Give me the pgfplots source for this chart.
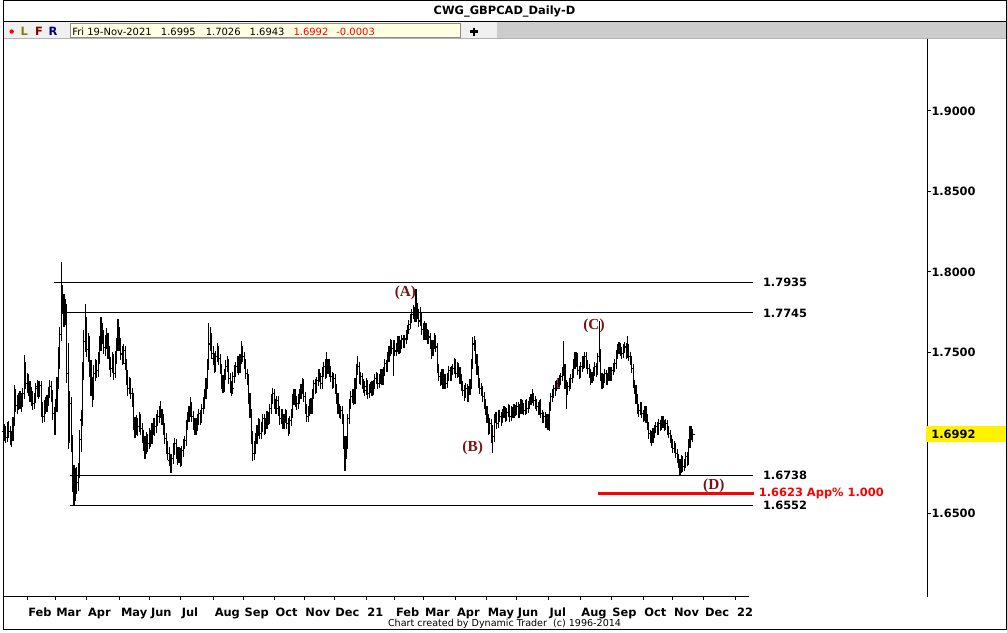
\documentclass[border=0pt]{standalone}
\usepackage{pgfplots}
\pgfplotsset{compat=1.18}
\usepackage{pgfplotstable}
\usepackage{fontspec}
\setmainfont{DejaVu Sans}
\newfontfamily\wavefont{Liberation Serif}
\definecolor{wavec}{RGB}{122,20,20}
\definecolor{infoy}{RGB}{255,255,225}
\definecolor{bandg}{RGB}{204,204,204}
\definecolor{lightg}{RGB}{240,240,240}
\definecolor{olivel}{RGB}{128,128,0}
\definecolor{darkr}{RGB}{128,0,0}
\definecolor{navyr}{RGB}{0,0,128}
\newcommand\bfs{\bfseries\fontsize{8.6}{10}\selectfont}
\newcommand\rgs{\fontsize{7.5}{9}\selectfont}
\pgfdeclareplotmark{otick}{\pgfpathmoveto{\pgfpointorigin}\pgfpathlineto{\pgfpoint{-\pgfplotmarksize}{0pt}}\pgfusepathqstroke}
\pgfdeclareplotmark{ctick}{\pgfpathmoveto{\pgfpointorigin}\pgfpathlineto{\pgfpoint{\pgfplotmarksize}{0pt}}\pgfusepathqstroke}
\pgfplotstableread{
d O H L C
-16 1.7010 1.7055 1.6950 1.6989
-15 1.6989 1.7040 1.6935 1.6970
-14 1.6970 1.7065 1.6942 1.7030
-13 1.7030 1.7072 1.6970 1.7008
-12 1.7008 1.7040 1.6925 1.6960
-11 1.6960 1.7010 1.6910 1.6975
-10 1.6975 1.7100 1.6948 1.7070
-9 1.7070 1.7300 1.7040 1.7220
-8 1.7220 1.7270 1.7130 1.7170
-7 1.7170 1.7235 1.7120 1.7190
-6 1.7190 1.7250 1.7140 1.7215
-5 1.7215 1.7260 1.7150 1.7185
-4 1.7185 1.7245 1.7130 1.7200
-3 1.7200 1.7280 1.7160 1.7245
-2 1.7245 1.7484 1.7210 1.7398
-1 1.7398 1.7440 1.7270 1.7305
0 1.7305 1.7370 1.7250 1.7330
1 1.7330 1.7365 1.7230 1.7274
2 1.7274 1.7320 1.7190 1.7235
3 1.7235 1.7285 1.7170 1.7212
4 1.7212 1.7260 1.7145 1.7181
5 1.7181 1.7250 1.7150 1.7220
6 1.7220 1.7310 1.7185 1.7274
7 1.7274 1.7330 1.7225 1.7286
8 1.7286 1.7320 1.7210 1.7250
9 1.7250 1.7325 1.7220 1.7295
10 1.7295 1.7320 1.7100 1.7140
11 1.7140 1.7195 1.7060 1.7100
12 1.7100 1.7205 1.7070 1.7165
13 1.7165 1.7220 1.7120 1.7181
14 1.7181 1.7235 1.7130 1.7200
15 1.7200 1.7285 1.7165 1.7250
16 1.7250 1.7330 1.7215 1.7286
17 1.7286 1.7320 1.7195 1.7230
18 1.7230 1.7265 1.7080 1.7119
19 1.7119 1.7160 1.6990 1.7030
20 1.7030 1.7210 1.6985 1.7170
21 1.7170 1.7350 1.7130 1.7310
22 1.7310 1.7535 1.7270 1.7440
23 1.7440 1.7660 1.7400 1.7610
24 1.7610 1.8059 1.7570 1.7893
25 1.7893 1.7920 1.7740 1.7800
26 1.7800 1.7860 1.7660 1.7720
27 1.7720 1.7830 1.7670 1.7760
28 1.7760 1.7800 1.7310 1.7370
29 1.7370 1.7560 1.6900 1.7000
30 1.7000 1.7260 1.6940 1.7180
31 1.7180 1.7220 1.6880 1.6930
32 1.6930 1.6990 1.6630 1.6690
33 1.6690 1.6800 1.6552 1.6640
34 1.6640 1.6780 1.6580 1.6730
35 1.6730 1.6790 1.6620 1.6690
36 1.6690 1.6810 1.6640 1.6760
37 1.6760 1.7020 1.6720 1.6960
38 1.6960 1.7140 1.6880 1.7080
39 1.7080 1.7440 1.7040 1.7390
40 1.7390 1.7640 1.7330 1.7570
41 1.7570 1.7802 1.7500 1.7640
42 1.7640 1.7720 1.7470 1.7520
43 1.7520 1.7620 1.7440 1.7560
44 1.7560 1.7600 1.7350 1.7400
45 1.7400 1.7450 1.7230 1.7280
46 1.7280 1.7350 1.7160 1.7240
47 1.7240 1.7420 1.7205 1.7370
48 1.7370 1.7460 1.7320 1.7420
49 1.7420 1.7455 1.7340 1.7390
50 1.7390 1.7500 1.7350 1.7470
51 1.7470 1.7600 1.7430 1.7550
52 1.7550 1.7720 1.7510 1.7630
53 1.7630 1.7680 1.7550 1.7600
54 1.7600 1.7640 1.7490 1.7530
55 1.7530 1.7610 1.7480 1.7560
56 1.7560 1.7650 1.7520 1.7590
57 1.7590 1.7620 1.7460 1.7500
58 1.7500 1.7540 1.7390 1.7430
59 1.7430 1.7470 1.7350 1.7400
60 1.7400 1.7500 1.7370 1.7460
61 1.7460 1.7490 1.7330 1.7370
62 1.7370 1.7510 1.7340 1.7470
63 1.7470 1.7590 1.7430 1.7550
64 1.7550 1.7710 1.7510 1.7610
65 1.7610 1.7660 1.7510 1.7550
66 1.7550 1.7590 1.7450 1.7490
67 1.7490 1.7540 1.7420 1.7460
68 1.7460 1.7550 1.7430 1.7510
69 1.7510 1.7540 1.7390 1.7430
70 1.7430 1.7460 1.7300 1.7336
71 1.7336 1.7390 1.7230 1.7274
72 1.7274 1.7350 1.7240 1.7305
73 1.7305 1.7340 1.7210 1.7243
74 1.7243 1.7280 1.7160 1.7212
75 1.7212 1.7245 1.7020 1.7057
76 1.7057 1.7100 1.6970 1.7026
77 1.7026 1.7110 1.6990 1.7057
78 1.7057 1.7095 1.6980 1.7039
79 1.7039 1.7130 1.7005 1.7088
80 1.7088 1.7120 1.6990 1.7026
81 1.7026 1.7060 1.6940 1.6977
82 1.6977 1.7020 1.6890 1.6933
83 1.6933 1.6980 1.6840 1.6903
84 1.6903 1.7005 1.6870 1.6964
85 1.6964 1.6995 1.6880 1.6933
86 1.6933 1.7030 1.6900 1.6995
87 1.6995 1.7020 1.6910 1.6964
88 1.6964 1.7060 1.6930 1.7026
89 1.7026 1.7095 1.6990 1.7057
90 1.7057 1.7090 1.6980 1.7039
91 1.7039 1.7120 1.7000 1.7088
92 1.7088 1.7140 1.7040 1.7101
93 1.7101 1.7170 1.7060 1.7138
94 1.7138 1.7200 1.7090 1.7119
95 1.7119 1.7150 1.7050 1.7088
96 1.7088 1.7120 1.6990 1.7026
97 1.7026 1.7060 1.6930 1.6964
98 1.6964 1.7000 1.6870 1.6903
99 1.6903 1.6950 1.6830 1.6872
100 1.6872 1.6910 1.6795 1.6828
101 1.6828 1.6870 1.6750 1.6791
102 1.6791 1.6870 1.6750 1.6841
103 1.6841 1.6940 1.6805 1.6903
104 1.6903 1.6970 1.6860 1.6933
105 1.6933 1.6965 1.6840 1.6872
106 1.6872 1.6910 1.6800 1.6841
107 1.6841 1.6910 1.6810 1.6872
108 1.6872 1.6905 1.6790 1.6828
109 1.6828 1.6920 1.6795 1.6890
110 1.6890 1.6965 1.6850 1.6933
111 1.6933 1.6980 1.6900 1.6952
112 1.6952 1.7080 1.6920 1.7057
113 1.7057 1.7130 1.7020 1.7101
114 1.7101 1.7170 1.7070 1.7138
115 1.7138 1.7220 1.7100 1.7163
116 1.7163 1.7195 1.7065 1.7101
117 1.7101 1.7135 1.7020 1.7057
118 1.7057 1.7090 1.6985 1.7026
119 1.7026 1.7095 1.6990 1.7039
120 1.7039 1.7120 1.7010 1.7088
121 1.7088 1.7150 1.7050 1.7119
122 1.7119 1.7145 1.7050 1.7088
123 1.7088 1.7180 1.7060 1.7150
124 1.7150 1.7220 1.7115 1.7181
125 1.7181 1.7270 1.7150 1.7243
126 1.7243 1.7340 1.7210 1.7305
127 1.7305 1.7460 1.7270 1.7429
128 1.7429 1.7680 1.7390 1.7552
129 1.7552 1.7660 1.7510 1.7571
130 1.7571 1.7620 1.7460 1.7491
131 1.7491 1.7540 1.7420 1.7460
132 1.7460 1.7495 1.7370 1.7410
133 1.7410 1.7510 1.7380 1.7472
134 1.7472 1.7560 1.7440 1.7509
135 1.7509 1.7540 1.7420 1.7460
136 1.7460 1.7490 1.7365 1.7398
137 1.7398 1.7430 1.7270 1.7305
138 1.7305 1.7360 1.7250 1.7286
139 1.7286 1.7400 1.7255 1.7367
140 1.7367 1.7450 1.7330 1.7410
141 1.7410 1.7480 1.7380 1.7429
142 1.7429 1.7460 1.7305 1.7336
143 1.7336 1.7370 1.7250 1.7286
144 1.7286 1.7320 1.7230 1.7274
145 1.7274 1.7380 1.7240 1.7348
146 1.7348 1.7420 1.7310 1.7385
147 1.7385 1.7440 1.7350 1.7410
148 1.7410 1.7480 1.7375 1.7448
149 1.7448 1.7475 1.7360 1.7398
150 1.7398 1.7490 1.7370 1.7460
151 1.7460 1.7570 1.7425 1.7509
152 1.7509 1.7540 1.7440 1.7472
153 1.7472 1.7500 1.7400 1.7429
154 1.7429 1.7460 1.7335 1.7367
155 1.7367 1.7400 1.7300 1.7336
156 1.7336 1.7365 1.7180 1.7212
157 1.7212 1.7250 1.7090 1.7119
158 1.7119 1.7150 1.6930 1.6964
159 1.6964 1.7010 1.6825 1.6872
160 1.6872 1.6950 1.6830 1.6903
161 1.6903 1.7000 1.6870 1.6964
162 1.6964 1.7050 1.6930 1.7014
163 1.7014 1.7090 1.6980 1.7057
164 1.7057 1.7085 1.6960 1.6995
165 1.6995 1.7070 1.6965 1.7039
166 1.7039 1.7120 1.7005 1.7088
167 1.7088 1.7115 1.6990 1.7026
168 1.7026 1.7090 1.6995 1.7057
169 1.7057 1.7135 1.7025 1.7101
170 1.7101 1.7130 1.7050 1.7088
171 1.7088 1.7180 1.7055 1.7150
172 1.7150 1.7240 1.7120 1.7212
173 1.7212 1.7280 1.7180 1.7243
174 1.7243 1.7275 1.7150 1.7181
175 1.7181 1.7210 1.7120 1.7150
176 1.7150 1.7230 1.7120 1.7200
177 1.7200 1.7230 1.7105 1.7138
178 1.7138 1.7170 1.7050 1.7088
179 1.7088 1.7150 1.7055 1.7119
180 1.7119 1.7150 1.7025 1.7057
181 1.7057 1.7120 1.7025 1.7088
182 1.7088 1.7150 1.7060 1.7119
183 1.7119 1.7145 1.7025 1.7057
184 1.7057 1.7090 1.6980 1.7026
185 1.7026 1.7105 1.6995 1.7076
186 1.7076 1.7150 1.7045 1.7119
187 1.7119 1.7240 1.7090 1.7212
188 1.7212 1.7270 1.7175 1.7243
189 1.7243 1.7275 1.7160 1.7200
190 1.7200 1.7230 1.7145 1.7181
191 1.7181 1.7240 1.7150 1.7212
192 1.7212 1.7270 1.7180 1.7243
193 1.7243 1.7305 1.7210 1.7274
194 1.7274 1.7340 1.7240 1.7305
195 1.7305 1.7335 1.7195 1.7224
196 1.7224 1.7255 1.7120 1.7150
197 1.7150 1.7180 1.7070 1.7101
198 1.7101 1.7170 1.7070 1.7138
199 1.7138 1.7210 1.7105 1.7181
200 1.7181 1.7215 1.7120 1.7150
201 1.7150 1.7270 1.7120 1.7243
202 1.7243 1.7330 1.7210 1.7305
203 1.7305 1.7335 1.7240 1.7274
204 1.7274 1.7350 1.7245 1.7323
205 1.7323 1.7395 1.7290 1.7367
206 1.7367 1.7400 1.7315 1.7348
207 1.7348 1.7375 1.7270 1.7305
208 1.7305 1.7410 1.7275 1.7385
209 1.7385 1.7440 1.7350 1.7410
210 1.7410 1.7460 1.7335 1.7367
211 1.7367 1.7502 1.7340 1.7398
212 1.7398 1.7460 1.7365 1.7429
213 1.7429 1.7460 1.7350 1.7385
214 1.7385 1.7415 1.7315 1.7348
215 1.7348 1.7380 1.7275 1.7305
216 1.7305 1.7370 1.7280 1.7336
217 1.7336 1.7365 1.7240 1.7274
218 1.7274 1.7305 1.7180 1.7212
219 1.7212 1.7245 1.7120 1.7150
220 1.7150 1.7180 1.7090 1.7119
221 1.7119 1.7170 1.7085 1.7138
222 1.7138 1.7165 1.7055 1.7088
223 1.7088 1.7115 1.6900 1.6933
224 1.6933 1.6980 1.6766 1.6872
225 1.6872 1.6980 1.6840 1.6933
226 1.6933 1.7120 1.6900 1.7088
227 1.7088 1.7210 1.7055 1.7181
228 1.7181 1.7260 1.7150 1.7224
229 1.7224 1.7270 1.7185 1.7243
230 1.7243 1.7275 1.7175 1.7212
231 1.7212 1.7340 1.7180 1.7305
232 1.7305 1.7430 1.7275 1.7398
233 1.7398 1.7480 1.7360 1.7410
234 1.7410 1.7440 1.7305 1.7336
235 1.7336 1.7380 1.7300 1.7348
236 1.7348 1.7375 1.7270 1.7305
237 1.7305 1.7335 1.7250 1.7286
238 1.7286 1.7320 1.7230 1.7262
239 1.7262 1.7340 1.7235 1.7305
240 1.7305 1.7330 1.7210 1.7243
241 1.7243 1.7305 1.7215 1.7274
242 1.7274 1.7315 1.7245 1.7286
243 1.7286 1.7320 1.7230 1.7262
244 1.7262 1.7330 1.7235 1.7305
245 1.7305 1.7365 1.7275 1.7336
246 1.7336 1.7380 1.7305 1.7348
247 1.7348 1.7375 1.7270 1.7305
248 1.7305 1.7365 1.7280 1.7336
249 1.7336 1.7395 1.7305 1.7367
250 1.7367 1.7395 1.7295 1.7323
251 1.7323 1.7410 1.7295 1.7385
252 1.7385 1.7460 1.7355 1.7429
253 1.7429 1.7455 1.7380 1.7410
254 1.7410 1.7500 1.7380 1.7472
255 1.7472 1.7540 1.7440 1.7509
256 1.7509 1.7585 1.7480 1.7552
257 1.7552 1.7580 1.7490 1.7522
258 1.7522 1.7580 1.7355 1.7552
259 1.7552 1.7580 1.7480 1.7509
260 1.7509 1.7560 1.7480 1.7534
261 1.7534 1.7600 1.7505 1.7571
262 1.7571 1.7600 1.7490 1.7522
263 1.7522 1.7580 1.7495 1.7552
264 1.7552 1.7610 1.7520 1.7583
265 1.7583 1.7610 1.7525 1.7552
266 1.7552 1.7610 1.7525 1.7583
267 1.7583 1.7640 1.7550 1.7614
268 1.7614 1.7670 1.7580 1.7645
269 1.7645 1.7700 1.7615 1.7676
270 1.7676 1.7740 1.7645 1.7707
271 1.7707 1.7770 1.7680 1.7738
272 1.7738 1.7795 1.7710 1.7757
273 1.7757 1.7785 1.7690 1.7720
274 1.7720 1.7893 1.7690 1.7769
275 1.7769 1.7810 1.7705 1.7738
276 1.7738 1.7770 1.7660 1.7695
277 1.7695 1.7780 1.7665 1.7720
278 1.7720 1.7750 1.7610 1.7645
279 1.7645 1.7680 1.7580 1.7614
280 1.7614 1.7695 1.7580 1.7658
281 1.7658 1.7685 1.7580 1.7614
282 1.7614 1.7645 1.7550 1.7583
283 1.7583 1.7640 1.7555 1.7596
284 1.7596 1.7620 1.7520 1.7552
285 1.7552 1.7580 1.7460 1.7509
286 1.7509 1.7580 1.7480 1.7552
287 1.7552 1.7620 1.7520 1.7583
288 1.7583 1.7610 1.7500 1.7534
289 1.7534 1.7560 1.7370 1.7398
290 1.7398 1.7430 1.7320 1.7348
291 1.7348 1.7380 1.7290 1.7323
292 1.7323 1.7395 1.7295 1.7367
293 1.7367 1.7395 1.7275 1.7305
294 1.7305 1.7365 1.7270 1.7336
295 1.7336 1.7365 1.7270 1.7305
296 1.7305 1.7375 1.7280 1.7348
297 1.7348 1.7415 1.7320 1.7385
298 1.7385 1.7410 1.7320 1.7348
299 1.7348 1.7415 1.7320 1.7385
300 1.7385 1.7425 1.7360 1.7398
301 1.7398 1.7465 1.7365 1.7429
302 1.7429 1.7460 1.7340 1.7367
303 1.7367 1.7440 1.7340 1.7410
304 1.7410 1.7435 1.7350 1.7385
305 1.7385 1.7410 1.7305 1.7336
306 1.7336 1.7365 1.7260 1.7286
307 1.7286 1.7320 1.7230 1.7262
308 1.7262 1.7295 1.7200 1.7243
309 1.7243 1.7310 1.7215 1.7274
310 1.7274 1.7305 1.7195 1.7224
311 1.7224 1.7290 1.7195 1.7262
312 1.7262 1.7335 1.7235 1.7305
313 1.7305 1.7460 1.7275 1.7429
314 1.7429 1.7598 1.7400 1.7552
315 1.7552 1.7600 1.7510 1.7552
316 1.7552 1.7580 1.7430 1.7460
317 1.7460 1.7490 1.7360 1.7385
318 1.7385 1.7415 1.7280 1.7305
319 1.7305 1.7340 1.7240 1.7274
320 1.7274 1.7310 1.7230 1.7255
321 1.7255 1.7290 1.7195 1.7224
322 1.7224 1.7255 1.7150 1.7181
323 1.7181 1.7210 1.7110 1.7138
324 1.7138 1.7170 1.7060 1.7088
325 1.7088 1.7115 1.6990 1.7026
326 1.7026 1.7090 1.6995 1.7057
327 1.7057 1.7085 1.6940 1.7014
328 1.7014 1.7050 1.6872 1.6977
329 1.6977 1.7120 1.6945 1.7088
330 1.7088 1.7130 1.7060 1.7101
331 1.7101 1.7130 1.7025 1.7057
332 1.7057 1.7145 1.7030 1.7119
333 1.7119 1.7145 1.7070 1.7101
334 1.7101 1.7130 1.7045 1.7088
335 1.7088 1.7150 1.7060 1.7119
336 1.7119 1.7165 1.7090 1.7138
337 1.7138 1.7160 1.7070 1.7101
338 1.7101 1.7155 1.7075 1.7126
339 1.7126 1.7180 1.7100 1.7150
340 1.7150 1.7175 1.7070 1.7101
341 1.7101 1.7165 1.7075 1.7138
342 1.7138 1.7160 1.7090 1.7119
343 1.7119 1.7180 1.7090 1.7150
344 1.7150 1.7175 1.7105 1.7138
345 1.7138 1.7190 1.7110 1.7163
346 1.7163 1.7190 1.7090 1.7119
347 1.7119 1.7180 1.7090 1.7150
348 1.7150 1.7210 1.7120 1.7181
349 1.7181 1.7205 1.7120 1.7150
350 1.7150 1.7185 1.7110 1.7138
351 1.7138 1.7205 1.7110 1.7181
352 1.7181 1.7210 1.7120 1.7150
353 1.7150 1.7200 1.7125 1.7175
354 1.7175 1.7225 1.7150 1.7200
355 1.7200 1.7240 1.7175 1.7212
356 1.7212 1.7270 1.7185 1.7224
357 1.7224 1.7250 1.7170 1.7200
358 1.7200 1.7230 1.7150 1.7181
359 1.7181 1.7210 1.7135 1.7163
360 1.7163 1.7190 1.7110 1.7138
361 1.7138 1.7205 1.7110 1.7181
362 1.7181 1.7210 1.7090 1.7119
363 1.7119 1.7145 1.7060 1.7088
364 1.7088 1.7130 1.7060 1.7101
365 1.7101 1.7130 1.7030 1.7057
366 1.7057 1.7115 1.7030 1.7088
367 1.7088 1.7115 1.7015 1.7039
368 1.7039 1.7190 1.7010 1.7163
369 1.7163 1.7250 1.7135 1.7224
370 1.7224 1.7270 1.7195 1.7243
371 1.7243 1.7300 1.7215 1.7274
372 1.7274 1.7320 1.7230 1.7286
373 1.7286 1.7330 1.7260 1.7305
374 1.7305 1.7340 1.7270 1.7305
375 1.7305 1.7360 1.7275 1.7336
376 1.7336 1.7375 1.7300 1.7348
377 1.7348 1.7410 1.7320 1.7385
378 1.7385 1.7573 1.7355 1.7398
379 1.7398 1.7425 1.7270 1.7305
380 1.7305 1.7330 1.7150 1.7262
381 1.7262 1.7315 1.7235 1.7286
382 1.7286 1.7340 1.7260 1.7305
383 1.7305 1.7365 1.7275 1.7336
384 1.7336 1.7395 1.7310 1.7367
385 1.7367 1.7460 1.7340 1.7429
386 1.7429 1.7500 1.7400 1.7460
387 1.7460 1.7500 1.7410 1.7472
388 1.7472 1.7495 1.7360 1.7385
389 1.7385 1.7415 1.7335 1.7367
390 1.7367 1.7440 1.7340 1.7410
391 1.7410 1.7480 1.7380 1.7448
392 1.7448 1.7475 1.7400 1.7429
393 1.7429 1.7500 1.7405 1.7472
394 1.7472 1.7500 1.7400 1.7429
395 1.7429 1.7455 1.7365 1.7398
396 1.7398 1.7425 1.7340 1.7367
397 1.7367 1.7395 1.7300 1.7336
398 1.7336 1.7380 1.7310 1.7348
399 1.7348 1.7410 1.7320 1.7385
400 1.7385 1.7440 1.7355 1.7410
401 1.7410 1.7435 1.7350 1.7385
402 1.7385 1.7495 1.7360 1.7472
403 1.7472 1.7695 1.7440 1.7491
404 1.7491 1.7520 1.7320 1.7348
405 1.7348 1.7375 1.7270 1.7305
406 1.7305 1.7365 1.7280 1.7336
407 1.7336 1.7395 1.7310 1.7367
408 1.7367 1.7390 1.7295 1.7323
409 1.7323 1.7375 1.7300 1.7348
410 1.7348 1.7410 1.7320 1.7385
411 1.7385 1.7410 1.7320 1.7348
412 1.7348 1.7410 1.7320 1.7385
413 1.7385 1.7435 1.7360 1.7410
414 1.7410 1.7460 1.7380 1.7429
415 1.7429 1.7515 1.7400 1.7491
416 1.7491 1.7550 1.7460 1.7522
417 1.7522 1.7565 1.7490 1.7534
418 1.7534 1.7560 1.7480 1.7509
419 1.7509 1.7535 1.7460 1.7491
420 1.7491 1.7550 1.7465 1.7522
421 1.7522 1.7565 1.7495 1.7534
422 1.7534 1.7560 1.7460 1.7491
423 1.7491 1.7602 1.7465 1.7522
424 1.7522 1.7550 1.7445 1.7472
425 1.7472 1.7500 1.7420 1.7448
426 1.7448 1.7475 1.7370 1.7398
427 1.7398 1.7425 1.7280 1.7305
428 1.7305 1.7330 1.7240 1.7274
429 1.7274 1.7300 1.7180 1.7212
430 1.7212 1.7240 1.7120 1.7150
431 1.7150 1.7180 1.7100 1.7138
432 1.7138 1.7195 1.7110 1.7163
433 1.7163 1.7190 1.7090 1.7119
434 1.7119 1.7145 1.7070 1.7101
435 1.7101 1.7165 1.7075 1.7138
436 1.7138 1.7165 1.7060 1.7088
437 1.7088 1.7115 1.7015 1.7039
438 1.7039 1.7065 1.6965 1.6995
439 1.6995 1.7020 1.6940 1.6977
440 1.6977 1.7010 1.6920 1.6964
441 1.6964 1.7030 1.6935 1.6995
442 1.6995 1.7050 1.6970 1.7026
443 1.7026 1.7070 1.7000 1.7039
444 1.7039 1.7065 1.6985 1.7014
445 1.7014 1.7085 1.6990 1.7057
446 1.7057 1.7080 1.7010 1.7039
447 1.7039 1.7105 1.7015 1.7076
448 1.7076 1.7105 1.7030 1.7057
449 1.7057 1.7080 1.7010 1.7039
450 1.7039 1.7085 1.7015 1.7057
451 1.7057 1.7080 1.6988 1.7014
452 1.7014 1.7040 1.6970 1.6995
453 1.6995 1.7020 1.6940 1.6964
454 1.6964 1.6990 1.6905 1.6933
455 1.6933 1.6960 1.6875 1.6903
456 1.6903 1.6950 1.6875 1.6915
457 1.6915 1.6940 1.6845 1.6872
458 1.6872 1.6900 1.6810 1.6841
459 1.6841 1.6870 1.6780 1.6810
460 1.6810 1.6840 1.6738 1.6779
461 1.6779 1.6860 1.6750 1.6828
462 1.6828 1.6855 1.6760 1.6791
463 1.6791 1.6840 1.6765 1.6810
464 1.6810 1.6880 1.6780 1.6853
465 1.6853 1.6880 1.6795 1.6828
466 1.6828 1.6960 1.6800 1.6933
467 1.6933 1.7040 1.6905 1.7014
468 1.7014 1.7040 1.6955 1.6995
469 1.6995 1.7026 1.6943 1.6992
}\ohlc
\begin{document}
\begin{tikzpicture}
\begin{scope}[x=0.75pt,y=-0.75pt,shift={(0,-598)}]
\useasboundingbox (0,0) rectangle (1007,632);
\fill[white] (0,0) rectangle (1007,632);
\fill[lightg] (0,22) rectangle (1007,38);
\fill[bandg] (495,22) rectangle (1007,38);
\filldraw[fill=infoy, draw=black!45, line width=0.75pt] (67.5,23.5) rectangle (458.5,37.5);
\draw[black, line width=0.75pt] (0,21.5) -- (1007,21.5);
\draw[black!30, line width=0.75pt] (0,38.5) -- (1007,38.5);
\node[font=\bfs] at (503,11) {CWG\_GBPCAD\_Daily-D};
\fill[red] (8.5,31.5) circle (2.2);
\node[font=\bfs, text=olivel] at (21,31) {L};
\node[font=\bfs, text=darkr] at (36,31) {F};
\node[font=\bfs, text=navyr] at (50,31) {R};
\node[font=\rgs, anchor=west, inner sep=0pt] at (69,31.5) {Fri 19-Nov-2021};
\node[font=\rgs, anchor=west, inner sep=0pt] at (158,31.5) {1.6995};
\node[font=\rgs, anchor=west, inner sep=0pt] at (203,31.5) {1.7026};
\node[font=\rgs, anchor=west, inner sep=0pt] at (247,31.5) {1.6943};
\node[font=\rgs, anchor=west, inner sep=0pt, text=red] at (291,31.5) {1.6992};
\node[font=\rgs, anchor=west, inner sep=0pt, text=red] at (334,31.5) {-0.0003};
\draw[line width=1.6pt] (468.5,31.5) -- (476.5,31.5) (472.5,27.5) -- (472.5,35.5);
\end{scope}
\begin{axis}[
  at={(0pt,0pt)}, anchor=south west, scale only axis,
  width=695.25pt, height=419.25pt,
  xmin=-16.854, xmax=634.13, ymin=1.59858, ymax=1.94471,
  axis line style={draw=none},
  tick align=outside, major tick length=2.6pt,
  tick style={black, line width=0.75pt},
  xtick={0,19.7,42.1,65.3,86.4,108.1,131.3,152.4,174.2,195.2,216.3,238.8,259.1,279.5,302,323.7,344.8,367.3,389.7,411.5,434,455,476.8,499.3},
  xticklabels={Feb,Mar,Apr,May,Jun,Jul,Aug,Sep,Oct,Nov,Dec,21,Feb,Mar,Apr,May,Jun,Jul,Aug,Sep,Oct,Nov,Dec,22},
  xtick pos=left,
  ytick={1.65,1.75,1.8,1.85,1.9},
  ytick pos=right, yticklabel pos=right,
  minor tick num=0,
  ticklabel style={font=\bfs, inner sep=0pt},
  xticklabel style={anchor=north west, xshift=0.75pt, yshift=-6pt},
  yticklabel style={anchor=west, xshift=0.5pt, /pgf/number format/fixed, /pgf/number format/fixed zerofill, /pgf/number format/precision=4, /pgf/number format/assume math mode=true},
  scaled y ticks=false,
  clip=false,
]
\addplot[black, line width=0.75pt] coordinates {(19,1.7935) (511.2,1.7935)};
\addplot[black, line width=0.75pt] coordinates {(27.4,1.7745) (511.2,1.7745)};
\addplot[black, line width=0.75pt] coordinates {(30.2,1.6738) (511.2,1.6738)};
\addplot[black, line width=0.75pt] coordinates {(30.2,1.6552) (511.2,1.6552)};
\addplot[red, line width=2.25pt] coordinates {(402.4,1.6623) (512,1.6623)};
\addplot[black, only marks, mark=ctick, mark size=1.5pt, mark options={line width=0.85pt},
  error bars/.cd, y dir=both, y explicit, error mark=none,
  error bar style={line width=0.85pt, black}]
  table[x=d, y=C, y error plus expr=\thisrow{H}-\thisrow{C}, y error minus expr=\thisrow{C}-\thisrow{L}] {\ohlc};
\addplot[black, only marks, mark=otick, mark size=1.5pt, mark options={line width=0.85pt}]
  table[x=d, y=O] {\ohlc};
\addplot[magenta, line width=0.75pt] coordinates {(373.5,1.7342) (373.5,1.7283) (375.6,1.7283)};
\node[font=\bfs, anchor=west, inner sep=0pt] at (axis cs:518.3,1.7935) {1.7935};
\node[font=\bfs, anchor=west, inner sep=0pt] at (axis cs:518.3,1.7745) {1.7745};
\node[font=\bfs, anchor=west, inner sep=0pt] at (axis cs:518.3,1.6738) {1.6738};
\node[font=\bfs, anchor=west, inner sep=0pt] at (axis cs:518.3,1.6552) {1.6552};
\node[font=\bfs, anchor=west, inner sep=0pt, text=red] at (axis cs:515.4,1.6623) {1.6623 App\% 1.000};
\node[font=\wavefont\bfseries\fontsize{11.5}{13}\selectfont, text=wavec] at (axis cs:266.5,1.7870) {(A)};
\node[font=\wavefont\bfseries\fontsize{11.5}{13}\selectfont, text=wavec] at (axis cs:313.9,1.6910) {(B)};
\node[font=\wavefont\bfseries\fontsize{11.5}{13}\selectfont, text=wavec] at (axis cs:399.4,1.7664) {(C)};
\node[font=\wavefont\bfseries\fontsize{11.5}{13}\selectfont, text=wavec] at (axis cs:483.8,1.6674) {(D)};
\end{axis}
\begin{scope}[x=0.75pt,y=-0.75pt,shift={(0,-598)}]
\draw[black, line width=0.75pt] (0,598.5) -- (748,598.5);
\draw[black, line width=0.75pt] (927.5,39) -- (927.5,598.5);
\fill[yellow] (926,427) rectangle (1006.5,443.5);
\node[font=\bfs, anchor=west, inner sep=0pt] at (931,435.5) {1.6992};
\node[font=\fontsize{7.2}{9}\selectfont] at (503,625.5) {Chart created by Dynamic Trader\ \ (c) 1996-2014};
\draw[black, line width=0.75pt] (0.375,0.375) rectangle (1006.625,631.625);
\end{scope}
\end{tikzpicture}
\end{document}
